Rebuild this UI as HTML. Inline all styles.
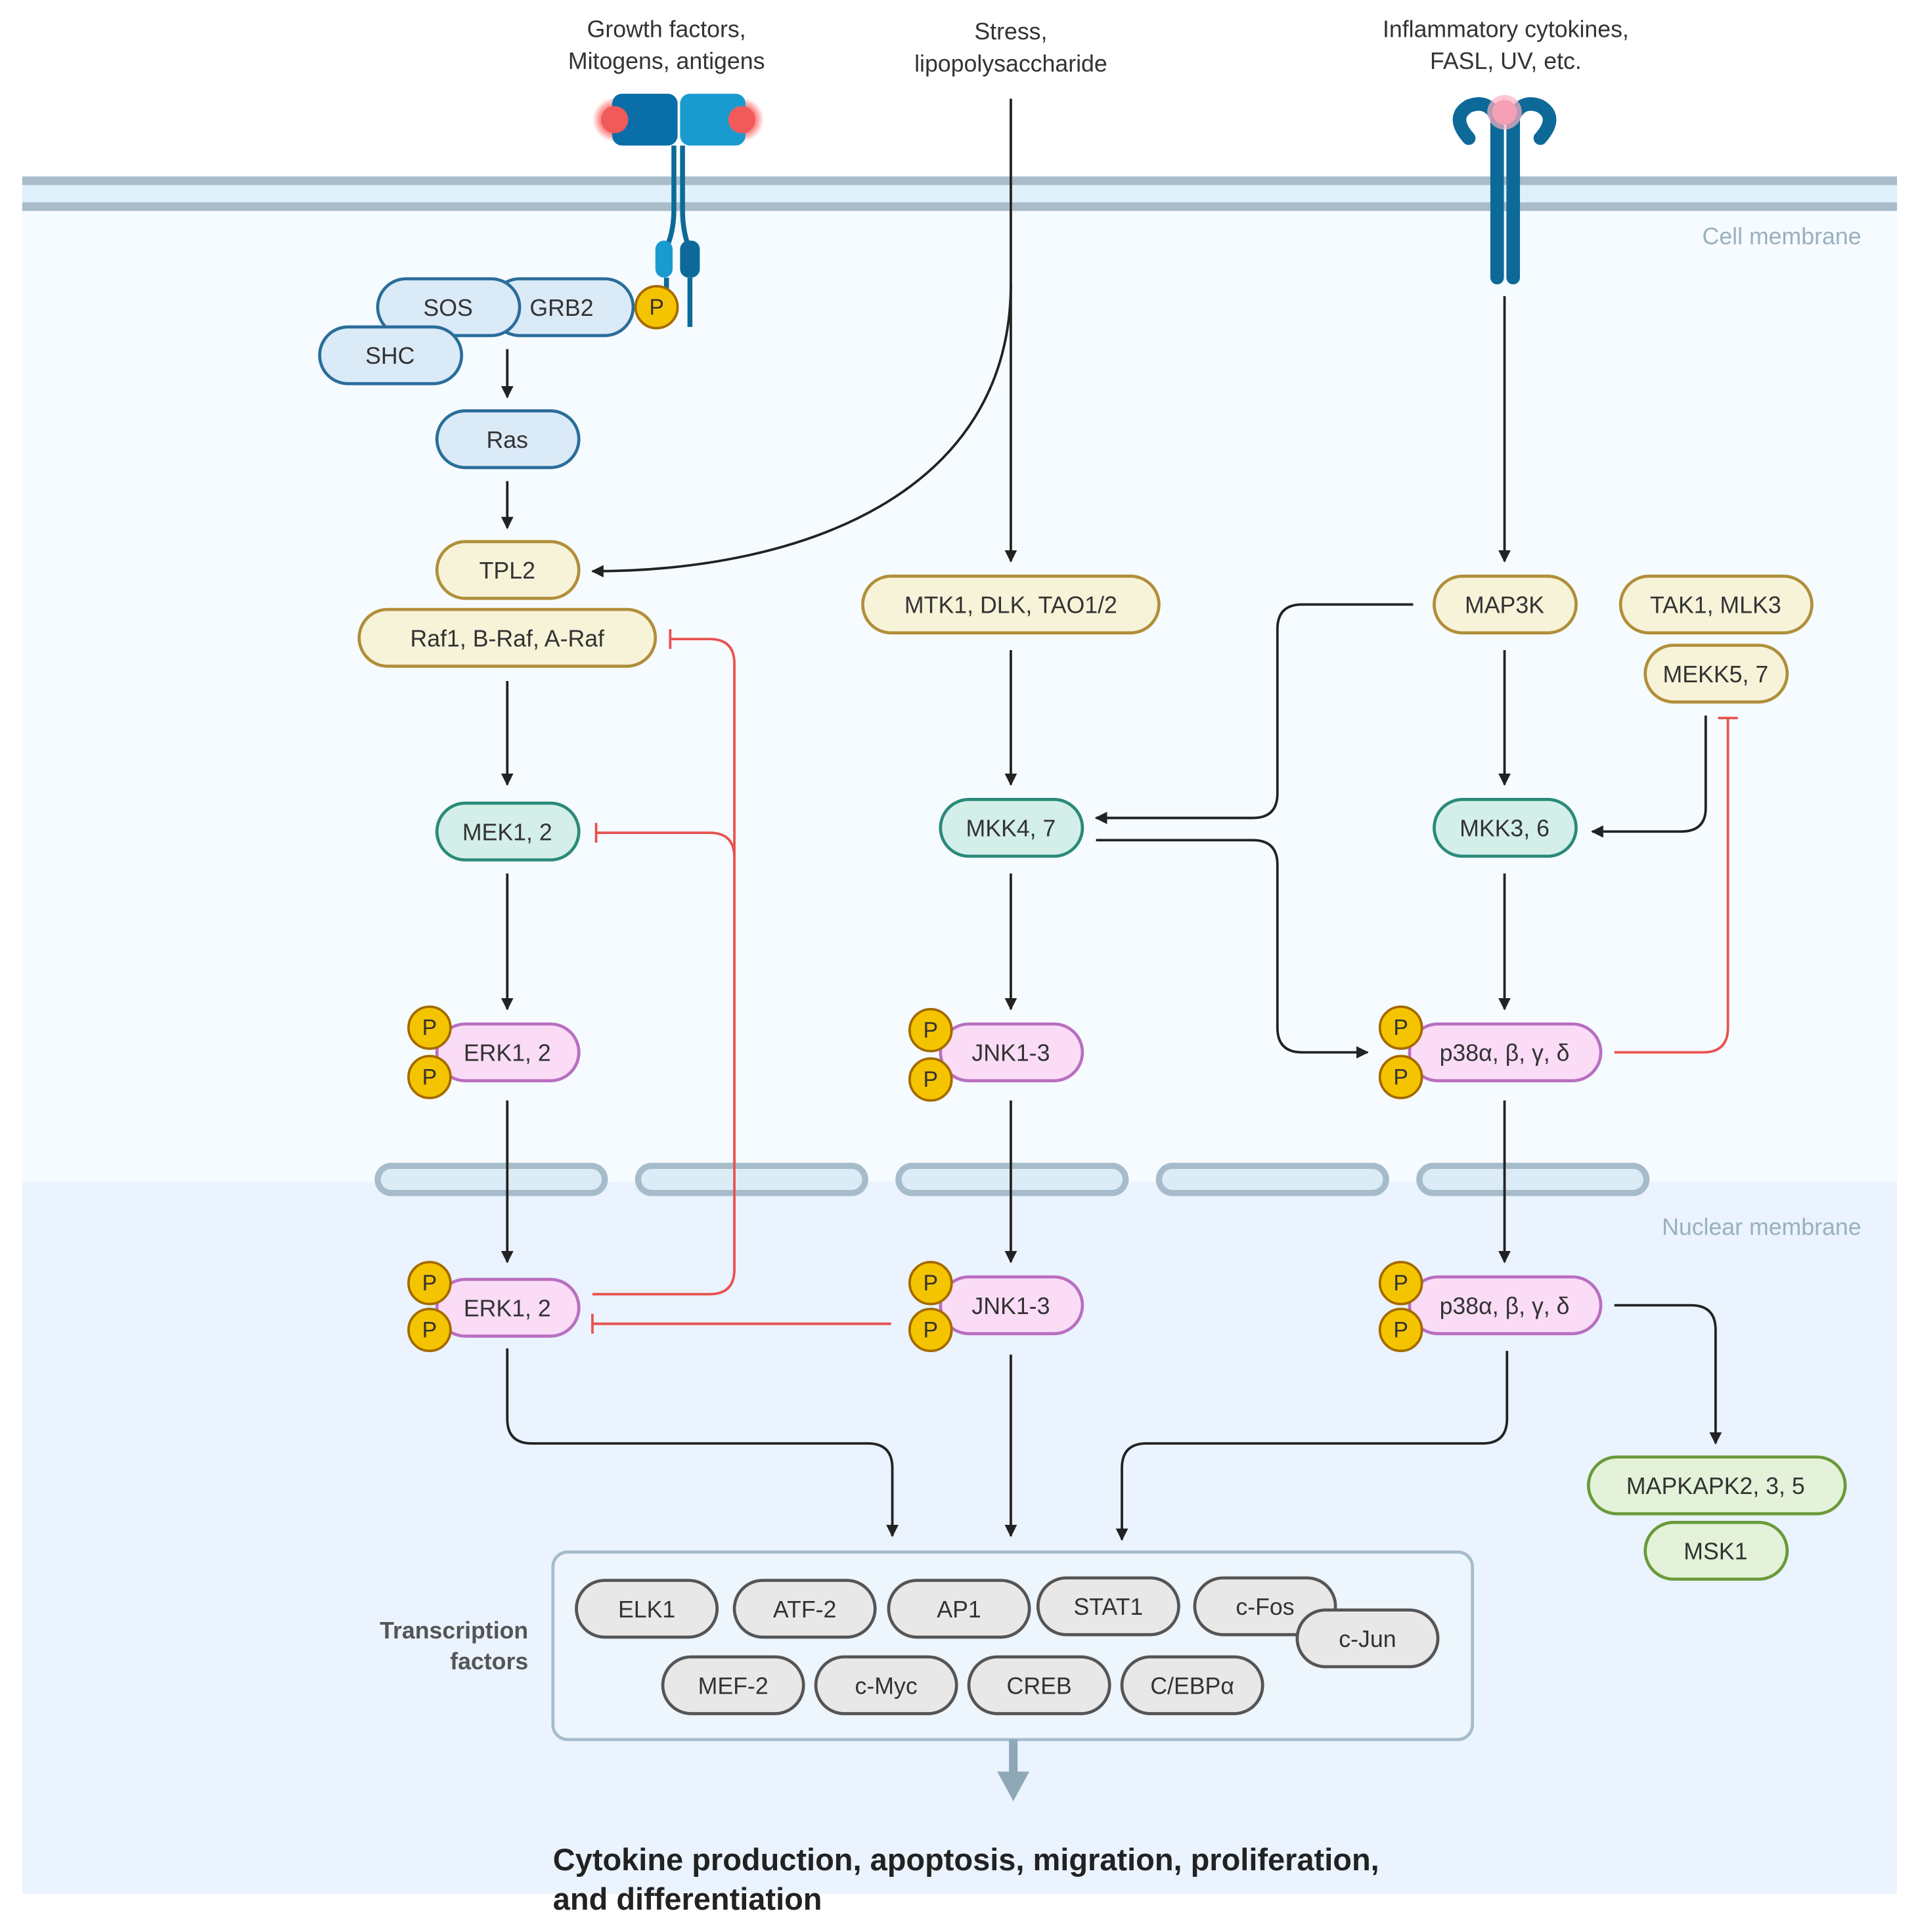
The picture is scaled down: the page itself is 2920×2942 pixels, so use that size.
<!DOCTYPE html>
<html><head><meta charset="utf-8"><style>
html,body{margin:0;padding:0;background:#fff}
svg{display:block}
text{font-family:"Liberation Sans",sans-serif}
</style></head><body>
<svg width="2920" height="2942" viewBox="0 0 1554 1566" preserveAspectRatio="none" xmlns="http://www.w3.org/2000/svg">
<defs>
<marker id="ah" viewBox="0 0 10 10" refX="9" refY="5" markerWidth="5" markerHeight="5" orient="auto"><path d="M0,0 L10,5 L0,10 z" fill="#222"/></marker>
<radialGradient id="glow"><stop offset="0.5" stop-color="#ff5a5a"/><stop offset="1" stop-color="#ff5a5a" stop-opacity="0"/></radialGradient>
</defs>
<rect x="18" y="168" width="1519" height="790" fill="#f6fbff"/>
<rect x="18" y="958" width="1519" height="577" fill="#eaf3fe"/>
<rect x="18" y="150" width="1519" height="14" fill="#dff0fb"/>
<rect x="18" y="143" width="1519" height="7" fill="#a9bcc9"/>
<rect x="18" y="164" width="1519" height="7" fill="#a9bcc9"/>
<text x="1508" y="198" font-size="19" fill="#9ab0bf" text-anchor="end">Cell membrane</text>
<text x="1508" y="1001" font-size="19" fill="#9ab0bf" text-anchor="end">Nuclear membrane</text>
<g fill="#dcecf7" stroke="#a6bccb" stroke-width="5">
<rect x="306" y="945" width="184" height="22" rx="11"/><rect x="517" y="945" width="184" height="22" rx="11"/><rect x="728" y="945" width="184" height="22" rx="11"/><rect x="939" y="945" width="184" height="22" rx="11"/><rect x="1150" y="945" width="184" height="22" rx="11"/>
</g>
<g font-size="19" fill="#333" text-anchor="middle">
<text x="540" y="30">Growth factors,</text><text x="540" y="56">Mitogens, antigens</text>
<text x="819" y="32">Stress,</text><text x="819" y="58">lipopolysaccharide</text>
<text x="1220" y="30">Inflammatory cytokines,</text><text x="1220" y="56">FASL, UV, etc.</text>
</g>
<!-- left receptor -->
<circle cx="498" cy="97" r="18" fill="url(#glow)"/><circle cx="601" cy="97" r="18" fill="url(#glow)"/>
<rect x="496" y="76" width="53" height="42" rx="8" fill="#0a6ea8"/>
<rect x="551" y="76" width="53" height="42" rx="8" fill="#1a9bd0"/>
<circle cx="498" cy="97" r="11" fill="#f05a5a"/><circle cx="601" cy="97" r="11" fill="#f05a5a"/>
<path d="M546,118 V170 Q546,190 538,205 M553,118 V170 Q553,190 560,205" stroke="#0d6a98" stroke-width="4" fill="none"/>
<rect x="531" y="195" width="14" height="30" rx="7" fill="#1a9bd0"/><rect x="551" y="195" width="16" height="30" rx="7" fill="#0d6a98"/>
<path d="M540,225 V240 M559,225 V265" stroke="#0d6a98" stroke-width="4"/>
<!-- right receptor -->
<path d="M1190,112 Q1175,95 1190,86 Q1205,80 1213,95 V225 M1248,112 Q1263,95 1248,86 Q1233,80 1226,95 V225" stroke="#0d6a98" stroke-width="11" fill="none" stroke-linecap="round"/>
<circle cx="1219" cy="91" r="14" fill="#ffb0c0" opacity="0.7"/><circle cx="1219" cy="91" r="10" fill="#f5a0b5"/>
<!-- connectors black -->
<g stroke="#222" stroke-width="2" fill="none" marker-end="url(#ah)">
<path d="M411,283 V322"/><path d="M411,390 V428"/>
<path d="M819,230 C819,400 650,463 480,463"/>
<path d="M819,80 V455"/><path d="M1219,240 V455"/>
<path d="M411,552 V636"/><path d="M411,708 V818"/><path d="M411,892 V1023"/>
<path d="M819,527 V636"/><path d="M819,708 V818"/><path d="M819,892 V1023"/>
<path d="M1219,527 V636"/><path d="M1219,708 V818"/><path d="M1219,892 V1023"/>
<path d="M1145,490 H1055 Q1035,490 1035,510 V643 Q1035,663 1015,663 H888"/>
<path d="M888,681 H1015 Q1035,681 1035,701 V833 Q1035,853 1055,853 H1108"/>
<path d="M1382,580 V655 Q1382,674 1362,674 H1290"/>
<path d="M411,1093 V1150 Q411,1170 431,1170 H703 Q723,1170 723,1190 V1245"/>
<path d="M819,1098 V1245"/>
<path d="M1221,1095 V1150 Q1221,1170 1201,1170 H929 Q909,1170 909,1190 V1248"/>
<path d="M1308,1058 H1370 Q1390,1058 1390,1078 V1170"/>
</g>
<!-- red inhibit -->
<g stroke="#e8524f" stroke-width="2" fill="none">
<path d="M1308,853 H1380 Q1400,853 1400,833 V582"/><path d="M1392,582 H1408"/>
<path d="M480,1049 H575 Q595,1049 595,1029 V538 Q595,518 575,518 H543"/><path d="M543,510 V526"/>
<path d="M595,695 Q595,675 575,675 H483"/><path d="M483,667 V683"/>
<path d="M722,1073 H480"/><path d="M480,1065 V1081"/>
</g>
<!-- nodes -->
<g font-size="19" text-anchor="middle" fill="#333" stroke-width="2.5">
<g fill="#dbeaf7" stroke="#2a6d9a">
<rect x="398" y="226" width="115" height="46" rx="23"/><rect x="306" y="226" width="115" height="46" rx="23"/>
<rect x="259" y="265" width="115" height="46" rx="23"/><rect x="354" y="333" width="115" height="46" rx="23"/>
</g>
<text x="363" y="256">SOS</text><text x="455" y="256">GRB2</text><text x="316" y="295">SHC</text><text x="411" y="363">Ras</text>
<g fill="#f7f3d9" stroke="#b08f3a">
<rect x="354" y="439" width="115" height="46" rx="23"/><rect x="291" y="494" width="240" height="46" rx="23"/>
<rect x="699" y="467" width="240" height="46" rx="23"/><rect x="1162" y="467" width="115" height="46" rx="23"/>
<rect x="1313" y="467" width="155" height="46" rx="23"/><rect x="1333" y="523" width="115" height="46" rx="23"/>
</g>
<text x="411" y="469">TPL2</text><text x="411" y="524">Raf1, B-Raf, A-Raf</text><text x="819" y="497">MTK1, DLK, TAO1/2</text>
<text x="1219" y="497">MAP3K</text><text x="1390" y="497">TAK1, MLK3</text><text x="1390" y="553">MEKK5, 7</text>
<g fill="#d4efe9" stroke="#2a8a7a">
<rect x="354" y="651" width="115" height="46" rx="23"/><rect x="762" y="648" width="115" height="46" rx="23"/><rect x="1162" y="648" width="115" height="46" rx="23"/>
</g>
<text x="411" y="681">MEK1, 2</text><text x="819" y="678">MKK4, 7</text><text x="1219" y="678">MKK3, 6</text>
<g fill="#fadcf7" stroke="#b96fc0">
<rect x="354" y="830" width="115" height="46" rx="23"/><rect x="762" y="830" width="115" height="46" rx="23"/><rect x="1142" y="830" width="155" height="46" rx="23"/>
<rect x="354" y="1037" width="115" height="46" rx="23"/><rect x="762" y="1035" width="115" height="46" rx="23"/><rect x="1142" y="1035" width="155" height="46" rx="23"/>
</g>
<text x="411" y="860">ERK1, 2</text><text x="819" y="860">JNK1-3</text><text x="1219" y="860">p38α, β, γ, δ</text>
<text x="411" y="1067">ERK1, 2</text><text x="819" y="1065">JNK1-3</text><text x="1219" y="1065">p38α, β, γ, δ</text>
<g fill="#e3f2d8" stroke="#6a9a3a">
<rect x="1287" y="1181" width="208" height="46" rx="23"/><rect x="1333" y="1234" width="115" height="46" rx="23"/>
</g>
<text x="1390" y="1211">MAPKAPK2, 3, 5</text><text x="1390" y="1264">MSK1</text>
<g fill="#f5c400" stroke="#a36a00" stroke-width="2">
<circle cx="532" cy="249" r="17"/>
<circle cx="348" cy="833" r="17"/><circle cx="348" cy="873" r="17"/>
<circle cx="754" cy="835" r="17"/><circle cx="754" cy="875" r="17"/>
<circle cx="1135" cy="833" r="17"/><circle cx="1135" cy="873" r="17"/>
<circle cx="348" cy="1040" r="17"/><circle cx="348" cy="1078" r="17"/>
<circle cx="754" cy="1040" r="17"/><circle cx="754" cy="1078" r="17"/>
<circle cx="1135" cy="1040" r="17"/><circle cx="1135" cy="1078" r="17"/>
</g>
<g font-size="18">
<text x="532" y="255">P</text><text x="348" y="839">P</text><text x="348" y="879">P</text><text x="754" y="841">P</text><text x="754" y="881">P</text>
<text x="1135" y="839">P</text><text x="1135" y="879">P</text><text x="348" y="1046">P</text><text x="348" y="1084">P</text>
<text x="754" y="1046">P</text><text x="754" y="1084">P</text><text x="1135" y="1046">P</text><text x="1135" y="1084">P</text>
</g>
</g>
<!-- TF box -->
<rect x="448" y="1258" width="745" height="152" rx="12" fill="#edf5fd" stroke="#a6bccb" stroke-width="2.5"/>
<g font-size="19" font-weight="bold" fill="#555" text-anchor="end"><text x="428" y="1328">Transcription</text><text x="428" y="1353">factors</text></g>
<g fill="#e8e8e8" stroke="#555" stroke-width="2.5">
<rect x="467" y="1281" width="114" height="46" rx="23"/><rect x="595" y="1281" width="114" height="46" rx="23"/>
<rect x="720" y="1281" width="114" height="46" rx="23"/><rect x="841" y="1279" width="114" height="46" rx="23"/>
<rect x="968" y="1279" width="114" height="46" rx="23"/><rect x="1051" y="1305" width="114" height="46" rx="23"/>
<rect x="537" y="1343" width="114" height="46" rx="23"/><rect x="661" y="1343" width="114" height="46" rx="23"/>
<rect x="785" y="1343" width="114" height="46" rx="23"/><rect x="909" y="1343" width="114" height="46" rx="23"/>
</g>
<g font-size="19" fill="#333" text-anchor="middle">
<text x="524" y="1311">ELK1</text><text x="652" y="1311">ATF-2</text><text x="777" y="1311">AP1</text><text x="898" y="1309">STAT1</text>
<text x="1025" y="1309">c-Fos</text><text x="1108" y="1335">c-Jun</text><text x="594" y="1373">MEF-2</text><text x="718" y="1373">c-Myc</text>
<text x="842" y="1373">CREB</text><text x="966" y="1373">C/EBPα</text>
</g>
<path d="M821,1410 V1438" stroke="#8fa8b8" stroke-width="7"/>
<path d="M808,1436 L834,1436 L821,1460 z" fill="#8fa8b8"/>
<g font-size="25" font-weight="bold" fill="#222" font-family="Liberation Serif,serif">
<text x="448" y="1516" font-family="Liberation Sans Narrow,Liberation Sans,sans-serif">Cytokine production, apoptosis, migration, proliferation,</text>
<text x="448" y="1548" font-family="Liberation Sans Narrow,Liberation Sans,sans-serif">and differentiation</text>
</g>
</svg>
</body></html>
